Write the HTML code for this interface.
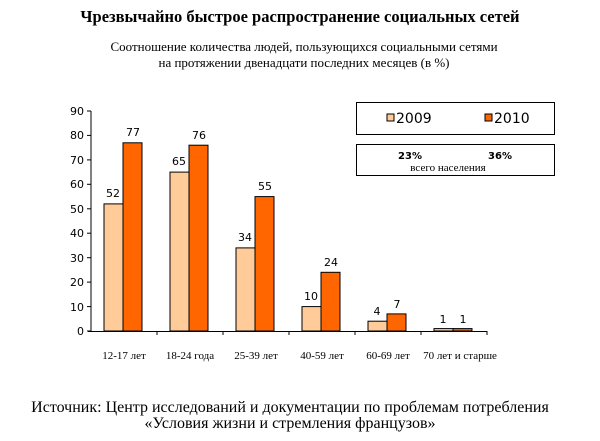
<!DOCTYPE html><html><head><meta charset="utf-8"><style>
body{margin:0;width:600px;height:436px;background:#fff;overflow:hidden}
</style></head><body>
<svg width="600" height="436" xmlns="http://www.w3.org/2000/svg" font-family="Liberation Serif, serif">
<text x="300" y="22" text-anchor="middle" font-size="16.5" font-weight="bold">Чрезвычайно быстрое распространение социальных сетей</text>
<text x="304" y="51" text-anchor="middle" font-size="13">Соотношение количества людей, пользующихся социальными сетями</text>
<text x="304" y="67" text-anchor="middle" font-size="13">на протяжении двенадцати последних месяцев (в %)</text>
<g font-family="DejaVu Sans, sans-serif" font-size="11" fill="#000">
<line x1="91" y1="111" x2="91" y2="332" stroke="#000"/>
<line x1="88" y1="331.5" x2="487" y2="331.5" stroke="#000"/>
<g text-anchor="end">
<text x="84" y="335">0</text><text x="84" y="311">10</text><text x="84" y="286">20</text><text x="84" y="262">30</text><text x="84" y="237">40</text><text x="84" y="213">50</text><text x="84" y="188">60</text><text x="84" y="164">70</text><text x="84" y="139">80</text><text x="84" y="115">90</text>
</g>
<g stroke="#000"><line x1="87" y1="331" x2="91" y2="331"/><line x1="87" y1="306.6" x2="91" y2="306.6"/><line x1="87" y1="282.1" x2="91" y2="282.1"/><line x1="87" y1="257.7" x2="91" y2="257.7"/><line x1="87" y1="233.2" x2="91" y2="233.2"/><line x1="87" y1="208.8" x2="91" y2="208.8"/><line x1="87" y1="184.3" x2="91" y2="184.3"/><line x1="87" y1="159.9" x2="91" y2="159.9"/><line x1="87" y1="135.4" x2="91" y2="135.4"/><line x1="87" y1="111" x2="91" y2="111"/>
<line x1="157" y1="331" x2="157" y2="335"/><line x1="223" y1="331" x2="223" y2="335"/><line x1="289" y1="331" x2="289" y2="335"/><line x1="355" y1="331" x2="355" y2="335"/><line x1="421" y1="331" x2="421" y2="335"/><line x1="487" y1="331" x2="487" y2="335"/></g>
<g stroke="#000" stroke-width="1">
<rect x="104" y="203.9" width="19" height="127.1" fill="#ffcc99"/><rect x="123" y="142.8" width="19" height="188.2" fill="#ff6600"/>
<rect x="170" y="172.1" width="19" height="158.9" fill="#ffcc99"/><rect x="189" y="145.2" width="19" height="185.8" fill="#ff6600"/>
<rect x="236" y="247.9" width="19" height="83.1" fill="#ffcc99"/><rect x="255" y="196.6" width="19" height="134.4" fill="#ff6600"/>
<rect x="302" y="306.6" width="19" height="24.4" fill="#ffcc99"/><rect x="321" y="272.3" width="19" height="58.7" fill="#ff6600"/>
<rect x="368" y="321.2" width="19" height="9.8" fill="#ffcc99"/><rect x="387" y="313.9" width="19" height="17.1" fill="#ff6600"/>
<rect x="434" y="328.6" width="19" height="2.4" fill="#ffcc99"/><rect x="453" y="328.6" width="19" height="2.4" fill="#ff6600"/>
</g>
<g text-anchor="middle">
<text x="113" y="197">52</text><text x="133" y="136">77</text>
<text x="179" y="165">65</text><text x="199" y="139">76</text>
<text x="245" y="241">34</text><text x="265" y="190">55</text>
<text x="311" y="300">10</text><text x="331" y="266">24</text>
<text x="377" y="315">4</text><text x="397" y="308">7</text>
<text x="443" y="323">1</text><text x="463" y="323">1</text>
</g>
<rect x="356.5" y="102.5" width="198" height="32" fill="#fff" stroke="#000"/>
<rect x="387" y="114" width="7" height="7" fill="#ffcc99" stroke="#000"/><text x="396" y="123" font-size="14">2009</text>
<rect x="485" y="114" width="7" height="7" fill="#ff6600" stroke="#000"/><text x="494" y="123" font-size="14">2010</text>
<rect x="356.5" y="144.5" width="198" height="31" fill="#fff" stroke="#000"/>
<text x="410" y="159" font-weight="bold" font-size="10" text-anchor="middle">23%</text>
<text x="500" y="159" font-weight="bold" font-size="10" text-anchor="middle">36%</text>
</g>
<text x="448" y="171" text-anchor="middle" font-size="11">всего населения</text>
<g font-size="11" text-anchor="middle">
<text x="124" y="359">12-17 лет</text><text x="190" y="359">18-24 года</text><text x="256" y="359">25-39 лет</text><text x="322" y="359">40-59 лет</text><text x="388" y="359">60-69 лет</text><text x="460" y="359">70 лет и старше</text>
</g>
<text x="290" y="412" text-anchor="middle" font-size="16">Источник: Центр исследований и документации по проблемам потребления</text>
<text x="290" y="428" text-anchor="middle" font-size="16">«Условия жизни и стремления французов»</text>
</svg>
</body></html>
